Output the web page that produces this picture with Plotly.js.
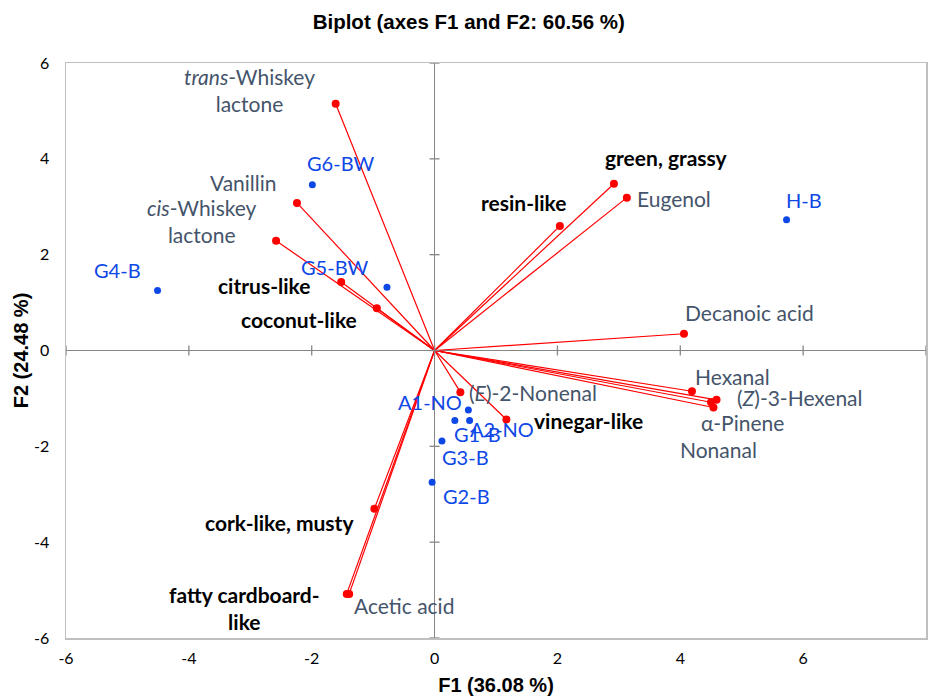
<!DOCTYPE html>
<html>
<head>
<meta charset="utf-8">
<script src="https://cdn.plot.ly/plotly-3.0.1.min.js"></script>
<style>
  html, body { margin: 0; padding: 0; background: #fff; }
  #chart { width: 930px; height: 697px; }
</style>
</head>
<body>
<div id="chart"></div>
<script>
// Volatile compounds (variable loadings, F1/F2)
const compoundNames = ['<i>trans</i>-Whiskey<br>lactone', 'Vanillin', '<i>cis</i>-Whiskey<br>lactone', 'Eugenol',
  'Decanoic acid', 'Hexanal', '(<i>Z</i>)-3-Hexenal', 'α-Pinene', 'Nonanal', '(<i>E</i>)-2-Nonenal', 'Acetic acid'];
const compoundF1 = [-1.61, -2.24, -2.58, 3.13, 4.06, 4.19, 4.59, 4.50, 4.54, 0.42, -1.39];
const compoundF2 = [5.15, 3.08, 2.29, 3.19, 0.35, -0.85, -1.03, -1.08, -1.19, -0.87, -5.08];

// Sensory descriptors (variable loadings, F1/F2)
const sensoryNames = ['citrus-like', 'coconut-like', 'resin-like', 'green, grassy', 'vinegar-like',
  'cork-like, musty', 'fatty cardboard-<br>like'];
const sensoryF1 = [-1.52, -0.94, 2.04, 2.92, 1.17, -0.98, -1.43];
const sensoryF2 = [1.43, 0.88, 2.60, 3.48, -1.44, -3.30, -5.08];

// Samples (observation scores, F1/F2)
const sampleNames = ['G6-BW', 'G4-B', 'G5-BW', 'H-B', 'A1-NO', 'G1-B', 'A2-NO', 'G3-B', 'G2-B'];
const sampleF1 = [-1.99, -4.51, -0.775, 5.73, 0.55, 0.33, 0.57, 0.12, -0.04];
const sampleF2 = [3.46, 1.25, 1.32, 2.73, -1.24, -1.46, -1.46, -1.89, -2.75];

// Axis ticks
const xTicks = [-6, -4, -2, 0, 2, 4, 6, 8];
const yTicks = [-6, -4, -2, 0, 2, 4, 6];

// Label offsets in pixels [dx, dy] (dy downward), one per label
const compoundOffsets = [[-86, -14], [-53, -20], [-74, -20], [47, 1], [66, -21], [41, -15],
  [83, -2], [31, 20], [5, 42], [73, 0], [55, 12]];
const sensoryOffsets = [[-77, 4], [-78, 11], [-36, -23], [53, -26], [82, 1], [-95, 14], [-102, 14]];
const sampleOffsets = [[28, -22], [-40, -21], [-52, -20], [17, -20], [-38, -8], [23, 14],
  [32, 9], [24, 16], [34, 14]];

const RED = '#ff0000';
const BLUE = '#0d47e6';
const SLATE = '#44546a';
const LABEL_FONT = 'Lato, "Open Sans", sans-serif';
const TITLE_FONT = '"Liberation Sans", Arial, sans-serif';

// Vectors from the origin to every variable
const allF1 = compoundF1.concat(sensoryF1);
const allF2 = compoundF2.concat(sensoryF2);
const vecX = [], vecY = [];
allF1.forEach((v, i) => { vecX.push(0, v, null); vecY.push(0, allF2[i], null); });

const traces = [
  { type: 'scatter', mode: 'lines', x: vecX, y: vecY, hoverinfo: 'skip',
    line: { color: RED, width: 1.2 }, showlegend: false },
  { type: 'scatter', mode: 'markers', x: allF1, y: allF2, name: 'Variables',
    marker: { color: RED, size: 8 }, showlegend: false },
  { type: 'scatter', mode: 'markers', x: sampleF1, y: sampleF2, name: 'Observations',
    marker: { color: BLUE, size: 7 }, showlegend: false }
];

const annotations = [];
function addLabels(names, xs, ys, offs, font) {
  names.forEach((t, i) => {
    annotations.push({ x: xs[i], y: ys[i], xref: 'x', yref: 'y', text: t, showarrow: false,
      xshift: offs[i][0], yshift: -offs[i][1], xanchor: 'center', yanchor: 'middle',
      align: 'center', font: font });
  });
}
addLabels(compoundNames, compoundF1, compoundF2, compoundOffsets, { family: LABEL_FONT, size: 21, color: SLATE });
addLabels(sensoryNames, sensoryF1, sensoryF2, sensoryOffsets, { family: LABEL_FONT, size: 21, color: '#000', weight: 'bold' });
addLabels(sampleNames, sampleF1, sampleF2, sampleOffsets, { family: LABEL_FONT, size: 20, color: BLUE });

// Small cross ticks on the zero lines
const shapes = [];
xTicks.forEach(v => shapes.push({ type: 'line', xref: 'x', yref: 'y', ysizemode: 'pixel', yanchor: 0,
  x0: v, x1: v, y0: -5, y1: 5, line: { color: '#868686', width: 1.3 } }));
yTicks.forEach(v => shapes.push({ type: 'line', xref: 'x', yref: 'y', xsizemode: 'pixel', xanchor: 0,
  y0: v, y1: v, x0: -5, x1: 5, line: { color: '#868686', width: 1.3 } }));

const layout = {
  width: 930, height: 697,
  margin: { l: 66, r: 4, t: 63, b: 58.5 },
  paper_bgcolor: '#fff', plot_bgcolor: '#fff',
  title: { text: '<b>Biplot (axes F1 and F2: 60.56 %)</b>', xref: 'container', yref: 'container',
    x: 0.504, xanchor: 'center', y: 1 - 22 / 697, yanchor: 'middle',
    font: { family: TITLE_FONT, size: 20.5, color: '#000' } },
  xaxis: {
    range: [-6, 8], tickvals: xTicks, ticktext: xTicks.map(String), showgrid: false,
    zeroline: true, zerolinecolor: '#868686', zerolinewidth: 1.3,
    showline: true, mirror: true, linecolor: '#bfbfbf', linewidth: 1.5, ticks: '',
    ticklabelstandoff: 5,
    tickfont: { family: LABEL_FONT, size: 16, color: '#000' },
    title: { text: '<b>F1 (36.08 %)</b>', standoff: 12,
      font: { family: TITLE_FONT, size: 20, color: '#000' } }
  },
  yaxis: {
    range: [-6, 6], tickvals: yTicks, ticktext: yTicks.map(String), showgrid: false,
    zeroline: true, zerolinecolor: '#868686', zerolinewidth: 1.3,
    showline: true, mirror: true, linecolor: '#bfbfbf', linewidth: 1.5, ticks: '',
    ticklabelstandoff: 12,
    tickfont: { family: LABEL_FONT, size: 16, color: '#000' },
    title: { text: '<b>F2 (24.48 %)</b>', standoff: 0,
      font: { family: TITLE_FONT, size: 20, color: '#000' } }
  },
  annotations: annotations,
  shapes: shapes,
  showlegend: false
};

Plotly.newPlot('chart', traces, layout, { displayModeBar: false, staticPlot: true });
</script>
</body>
</html>
